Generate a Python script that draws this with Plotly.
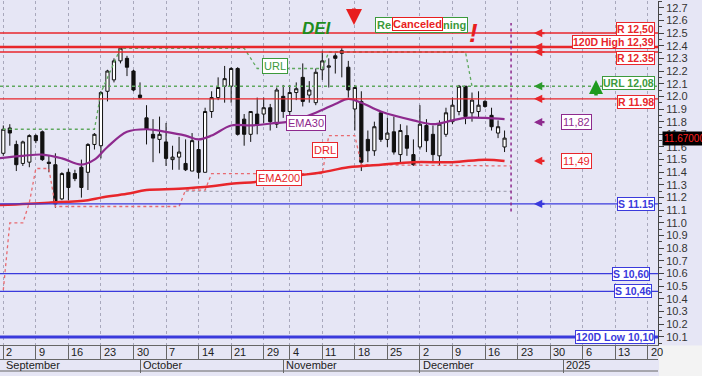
import numpy as np
import pandas as pd
import plotly.graph_objects as go

# ---------------- data ----------------
missing_days = ["2024-10-28"]
trade_dates = [d.strftime("%Y-%m-%d") for d in pd.bdate_range("2024-09-02", "2024-12-19")
               if d.strftime("%Y-%m-%d") not in missing_days]

opens = [11.55, 11.75, 11.62, 11.47, 11.48, 11.69, 11.72, 11.48, 11.46, 11.19,
         11.40, 11.39, 11.44, 11.40, 11.62, 11.61, 12.04, 12.13, 12.28, 12.30,
         12.20, 12.01, 11.83, 11.70, 11.66, 11.64, 11.50, 11.52, 11.47, 11.41,
         11.58, 11.40, 11.88, 11.99, 12.08, 12.08, 12.22, 11.82, 11.70, 11.86,
         11.86, 11.91, 11.78, 12.00, 11.88, 12.03, 12.15, 12.01, 11.95,
         12.21, 12.23, 12.32, 12.36, 12.23, 11.90, 11.96, 11.66, 11.57, 11.87,
         11.66, 11.72, 11.54, 11.69, 11.54, 11.60, 11.77, 11.70, 11.53, 11.70,
         11.80, 11.88, 12.08, 11.87, 11.88, 11.96, 11.85, 11.71, 11.60]
highs = [11.77, 11.78, 11.65, 11.65, 11.70, 11.70, 11.73, 11.53, 11.55, 11.40,
         11.43, 11.42, 11.50, 11.63, 11.71, 12.04, 12.21, 12.30, 12.39, 12.32,
         12.21, 12.11, 11.93, 11.82, 11.84, 11.79, 11.61, 11.68, 11.66, 11.71,
         11.65, 11.91, 12.04, 12.15, 12.24, 12.23, 12.23, 11.86, 11.88, 11.99,
         11.99, 11.94, 12.07, 12.09, 12.09, 12.11, 12.26, 12.12, 12.22,
         12.36, 12.30, 12.34, 12.38, 12.28, 12.09, 12.04, 11.73, 11.80, 11.88,
         11.83, 11.84, 11.78, 11.77, 11.66, 11.93, 11.82, 11.77, 11.81, 11.91,
         11.99, 12.09, 12.08, 12.03, 12.04, 11.97, 11.91, 11.81, 11.73]
lows = [11.53, 11.61, 11.41, 11.45, 11.44, 11.63, 11.49, 11.40, 11.12, 11.18,
        11.18, 11.33, 11.20, 11.26, 11.58, 11.51, 11.96, 12.11, 12.26, 12.16,
        12.04, 11.98, 11.62, 11.48, 11.55, 11.45, 11.42, 11.42, 11.41, 11.41,
        11.35, 11.40, 11.83, 11.97, 11.95, 11.95, 11.69, 11.61, 11.64, 11.70,
        11.79, 11.73, 11.75, 11.83, 11.85, 11.97, 11.92, 11.95, 11.93,
        12.13, 12.07, 12.18, 12.15, 11.99, 11.73, 11.41, 11.48, 11.53, 11.64,
        11.60, 11.54, 11.47, 11.53, 11.45, 11.58, 11.56, 11.48, 11.45, 11.68,
        11.78, 11.85, 11.78, 11.80, 11.83, 11.91, 11.73, 11.67, 11.56]
closes = [11.74, 11.71, 11.46, 11.64, 11.69, 11.65, 11.50, 11.47, 11.15, 11.39,
          11.28, 11.35, 11.28, 11.62, 11.70, 12.03, 12.20, 12.28, 12.38, 12.23,
          12.05, 11.99, 11.74, 11.67, 11.70, 11.51, 11.52, 11.56, 11.42, 11.65,
          11.40, 11.88, 11.99, 12.07, 12.14, 12.22, 11.70, 11.70, 11.88, 11.77,
          11.91, 11.80, 12.05, 11.88, 12.03, 12.06, 11.96, 12.05, 12.19,
          12.28, 12.24, 12.30, 12.34, 12.05, 12.07, 11.48, 11.57, 11.76, 11.66,
          11.71, 11.56, 11.73, 11.59, 11.46, 11.78, 11.65, 11.54, 11.78, 11.87,
          11.93, 12.08, 11.84, 11.97, 11.93, 11.92, 11.76, 11.76, 11.67]

ema30_dates = ["2024-08-30", "2024-09-05", "2024-09-10", "2024-09-13", "2024-09-18", "2024-09-20",
               "2024-09-24", "2024-09-27", "2024-10-02", "2024-10-07", "2024-10-10", "2024-10-14",
               "2024-10-16", "2024-10-21", "2024-10-24", "2024-10-31", "2024-11-04", "2024-11-08",
               "2024-11-13", "2024-11-15", "2024-11-19", "2024-11-22", "2024-11-29", "2024-12-04",
               "2024-12-09", "2024-12-11", "2024-12-16", "2024-12-19"]
ema30_vals = [11.51, 11.53, 11.54, 11.51, 11.46, 11.50, 11.60, 11.72, 11.74, 11.72, 11.69, 11.66,
              11.69, 11.77, 11.77, 11.79, 11.80, 11.87, 11.94, 11.98, 11.95, 11.88, 11.81, 11.78,
              11.81, 11.83, 11.83, 11.82]

ema200_dates = ["2024-08-30", "2024-09-11", "2024-09-19", "2024-09-23", "2024-09-27", "2024-10-02",
                "2024-10-09", "2024-10-16", "2024-10-21", "2024-10-29", "2024-11-06", "2024-11-11",
                "2024-11-15", "2024-11-22", "2024-11-29", "2024-12-09", "2024-12-16", "2024-12-19"]
ema200_vals = [11.14, 11.16, 11.18, 11.20, 11.23, 11.26, 11.27, 11.29, 11.31, 11.33, 11.38, 11.40,
               11.44, 11.46, 11.48, 11.48, 11.50, 11.49]

url_dates = ["2024-08-30", "2024-09-20", "2024-09-23", "2024-09-26", "2024-10-23", "2024-10-25",
             "2024-11-11", "2024-11-12", "2024-12-11", "2024-12-12", "2024-12-20"]
url_vals = [11.74, 11.74, 12.03, 12.38, 12.38, 12.22, 12.22, 12.35, 12.35, 12.08, 12.08]

drl_dates = ["2024-09-02", "2024-09-03", "2024-09-05", "2024-09-06", "2024-09-09", "2024-09-11",
             "2024-09-12", "2024-10-09", "2024-10-10", "2024-10-15", "2024-10-16", "2024-11-11",
             "2024-11-12", "2024-11-18", "2024-11-19", "2024-12-20"]
drl_vals = [10.47, 11.00, 11.00, 11.16, 11.43, 11.43, 11.13, 11.13, 11.26, 11.26, 11.39, 11.39,
            11.69, 11.69, 11.46, 11.45]

grey_dates = ["2024-10-10", "2024-12-20"]
grey_vals = [11.25, 11.25]

levels = [12.50, 12.39, 12.35, 12.08, 11.98, 11.15, 10.60, 10.46, 10.10]
level_labels = ["R 12,50", "120D High 12,39", "R 12.35", "URL 12,08", "R 11.98",
                "S 11.15", "S 10,60", "S 10,46", "120D Low 10,10"]
level_kinds = ["R", "H", "R", "U", "R", "S", "S", "S", "L"]

ema30_last, ema200_last, last_close = 11.82, 11.49, 11.67

week_dates = ["2024-09-02", "2024-09-09", "2024-09-16", "2024-09-23", "2024-09-30", "2024-10-07",
              "2024-10-14", "2024-10-21", "2024-10-29", "2024-11-04", "2024-11-11", "2024-11-18",
              "2024-11-25", "2024-12-02", "2024-12-09", "2024-12-16", "2024-12-23", "2024-12-30",
              "2025-01-06", "2025-01-13", "2025-01-20"]
week_labels = ["2", "9", "16", "23", "30", "7", "14", "21", "29", "4", "11", "18", "25",
               "2", "9", "16", "23", "30", "6", "13", "20"]
month_dates = ["2024-09-02", "2024-10-01", "2024-11-01", "2024-12-02", "2025-01-01"]
month_labels = ["September", "October", "November", "December", "2025"]
next_day = "2024-12-20"


def slot(d):
    return int(np.busday_count("2024-09-02", d, holidays=missing_days))


xs = [slot(d) for d in trade_dates]

RED = "#E8262B"
BLUE = "#3A3ADC"
GREEN = "#3C9A3C"
PURPLE = "#8E2A8E"
BG = "#E6E6F5"
FONT = "Liberation Sans"

X0, X1 = -0.507, 100.57
TOPM, BOTM = 1, 4
PH = 376 - TOPM - BOTM


def py(p):  # pixel row -> paper y
    return (376 - BOTM - p) / PH


def px(p):  # pixel column -> paper x
    return p / 658.0


fig = go.Figure()

fig.add_trace(go.Scatter(x=[slot(d) for d in grey_dates], y=grey_vals, mode="lines",
                         line=dict(color="#A8A8B8", width=1.2, dash="dot"), hoverinfo="skip"))
fig.add_trace(go.Scatter(x=[slot(d) for d in url_dates], y=url_vals, mode="lines",
                         line=dict(color="#5FA85F", width=1.3, dash="dot"), hoverinfo="skip"))
fig.add_trace(go.Scatter(x=[slot(d) for d in drl_dates], y=drl_vals, mode="lines",
                         line=dict(color="#E86A70", width=1.3, dash="dot"), hoverinfo="skip"))
fig.add_trace(go.Scatter(x=[slot(d) for d in ema200_dates], y=ema200_vals, mode="lines",
                         line=dict(color=RED, width=2.5, shape="spline"), hoverinfo="skip"))

fig.add_trace(go.Candlestick(
    x=xs, open=opens, high=highs, low=lows, close=closes,
    increasing=dict(line=dict(color="#111111", width=1), fillcolor="white"),
    decreasing=dict(line=dict(color="#111111", width=1), fillcolor="#111111"),
    whiskerwidth=0, hoverinfo="skip"))

fig.add_trace(go.Scatter(x=[slot(d) for d in ema30_dates], y=ema30_vals, mode="lines",
                         line=dict(color=PURPLE, width=2.2, shape="spline"), hoverinfo="skip"))

# invisible trace for the month axis
fig.add_trace(go.Scatter(x=[slot(month_dates[1])], y=[11.0], xaxis="x2", mode="markers",
                         marker=dict(opacity=0), hoverinfo="skip"))

# level lines and labels
style = {"R": (RED, 1.4, "solid"), "H": (RED, 2.6, "solid"), "U": ("#5FA85F", 1.4, "dot"),
         "S": (BLUE, 1.3, "solid"), "L": (BLUE, 3.0, "solid")}
label_right = {"S 10,60": px(650), "S 10,46": px(652)}
label_anchor = {"R 12,50": ("bottom", -3), "120D High 12,39": ("bottom", -2),
                "R 12.35": ("top", 1), "URL 12,08": ("bottom", -4), "R 11.98": ("middle", -3)}
for v, lab, k in zip(levels, level_labels, level_kinds):
    col, w, dash = style[k]
    fig.add_hline(y=v, line=dict(color=col, width=w, dash=dash), layer="above")
    tcol = GREEN if k == "U" else col
    ya, ys = label_anchor.get(lab, ("middle", 0))
    fig.add_annotation(x=label_right.get(lab, px(655)), xref="paper", y=v, yref="y",
                       xanchor="right", yanchor=ya, yshift=ys, text="<b>%s</b>" % lab,
                       showarrow=False, font=dict(family=FONT, size=10.5, color=tcol),
                       bgcolor="white", bordercolor=tcol, borderwidth=1, borderpad=0)

# arrows on the right
arrow_items = [(12.50, RED, 0), (12.39, RED, 0), (12.35, RED, 0), (12.08, "#2E9A2E", 0),
               (11.98, RED, 0), (ema30_last, PURPLE, -3), (ema200_last, RED, 0), (11.15, BLUE, 0)]
for v, col, ys in arrow_items:
    fig.add_annotation(x=px(534), xref="paper", y=v, yref="y", ax=12, ay=0, yshift=ys, text="",
                       showarrow=True, arrowhead=2, arrowsize=0.75, arrowwidth=2.2, arrowcolor=col)

for v, col, t, ys in [(ema30_last, PURPLE, "11,82", -3), (ema200_last, RED, "11,49", 0)]:
    fig.add_annotation(x=px(592), xref="paper", y=v, yref="y", yshift=ys, text=t, showarrow=False,
                       font=dict(family=FONT, size=11, color=col), bgcolor="white",
                       bordercolor=col, borderwidth=1, borderpad=1)

# green up arrow near URL
fig.add_annotation(x=px(596), xref="paper", y=py(80), yref="paper", ax=0, ay=17, text="",
                   showarrow=True, arrowhead=2, arrowsize=0.8, arrowwidth=3.5, arrowcolor="#1E9A1E")

# inline labels
for xp, yv, t, col in [(306, 11.79, "EMA30", PURPLE), (279, 11.355, "EMA200", RED),
                       (325, 11.58, "DRL", RED), (275, 12.24, "URL", GREEN)]:
    fig.add_annotation(x=px(xp), xref="paper", y=yv, yref="y", text=t, showarrow=False,
                       font=dict(family=FONT, size=11, color=col), bgcolor="white",
                       bordercolor=col, borderwidth=1, borderpad=1)

# title block
fig.add_annotation(x=px(317), xref="paper", y=py(17), yref="paper", text="<b><i>DEI</i></b>",
                   showarrow=False, font=dict(family=FONT, size=17, color="#1E8C1E"))
fig.add_annotation(x=px(354), xref="paper", y=py(25), yref="paper", ax=0, ay=-18, text="",
                   showarrow=True, arrowhead=2, arrowsize=0.8, arrowwidth=4, arrowcolor="#E81E1E")
fig.add_annotation(x=px(421.6), xref="paper", y=py(17), yref="paper",
                   text="<b>Re<span style='color:white'>&nbsp;Canceled</span>ning</b>",
                   showarrow=False, font=dict(family=FONT, size=11, color=GREEN), bgcolor="white",
                   bordercolor=GREEN, borderwidth=1, borderpad=1)
fig.add_annotation(x=px(417.5), xref="paper", y=py(17), yref="paper", text="<b>Canceled</b>",
                   showarrow=False, font=dict(family=FONT, size=11, color="#E81E1E"),
                   bgcolor="white", bordercolor="#E81E1E", borderwidth=1, borderpad=0)
fig.add_annotation(x=px(480), xref="paper", y=py(16), yref="paper", text="<b><i>!</i></b>",
                   showarrow=False, font=dict(family=FONT, size=26, color="#E81E1E"))

# last-day marker line
fig.add_shape(type="line", xref="x", yref="y", x0=slot(next_day), x1=slot(next_day),
              y0=11.09, y1=12.58, line=dict(color=PURPLE, width=1.5, dash="dot"))

# price tag
fig.add_annotation(x=px(662), xref="paper", y=last_close, yref="y", xanchor="left",
                   text="%.5f" % last_close, showarrow=False,
                   font=dict(family=FONT, size=10, color="#FF2020"), bgcolor="black", borderpad=1)

# x-axis labels
for d, t in zip(week_dates, week_labels):
    fig.add_annotation(x=slot(d), xref="x", y=py(352), yref="paper", xanchor="left",
                       yanchor="middle", xshift=1, text=t, showarrow=False,
                       font=dict(family=FONT, size=11, color="#222"))
for d, t in zip(month_dates, month_labels):
    fig.add_annotation(x=max(slot(d), X0), xref="x", y=py(365), yref="paper", xanchor="left",
                       yanchor="middle", xshift=1, text=t, showarrow=False,
                       font=dict(family=FONT, size=11, color="#222"))

fig.add_shape(type="line", xref="paper", yref="paper", x0=0, x1=1, y0=py(371), y1=py(371),
              line=dict(color="#666", width=1))
fig.add_shape(type="rect", xref="paper", yref="paper", x0=px(659), x1=px(702), y0=py(376),
              y1=py(345.5), fillcolor="#F3F3F3", line=dict(width=0), layer="above")

fig.update_layout(
    width=702, height=376,
    margin=dict(l=0, r=44, t=TOPM, b=BOTM),
    paper_bgcolor=BG, plot_bgcolor=BG,
    showlegend=False, hovermode=False,
    font=dict(family=FONT, size=11, color="#222"),
    xaxis=dict(range=[X0, X1], tickvals=[slot(d) for d in week_dates], showticklabels=False,
               ticks="outside", ticklen=13, tickcolor="#666", showgrid=True, gridcolor="#A8A8BC",
               griddash="dot", gridwidth=1, showline=True, linecolor="#666", zeroline=False,
               rangeslider=dict(visible=False), fixedrange=True),
    xaxis2=dict(overlaying="x", anchor="free", position=py(358.5), range=[X0, X1],
                tickvals=[slot(d) for d in month_dates[1:]], showticklabels=False,
                ticks="outside", ticklen=13, tickcolor="#666", showgrid=False, showline=True,
                linecolor="#666", zeroline=False),
    yaxis=dict(domain=[py(345), 1], range=[10.036, 12.753], side="right", tick0=10.0, dtick=0.1,
               tickformat=".1f", ticks="outside", ticklen=5, tickcolor="#444", showline=True,
               linecolor="#444", showgrid=False, zeroline=False,
               tickfont=dict(family=FONT, size=11, color="#333"),
               minor=dict(dtick=0.05, ticks="outside", ticklen=3, tickcolor="#444", showgrid=False)),
)

fig.write_html("out.html")
